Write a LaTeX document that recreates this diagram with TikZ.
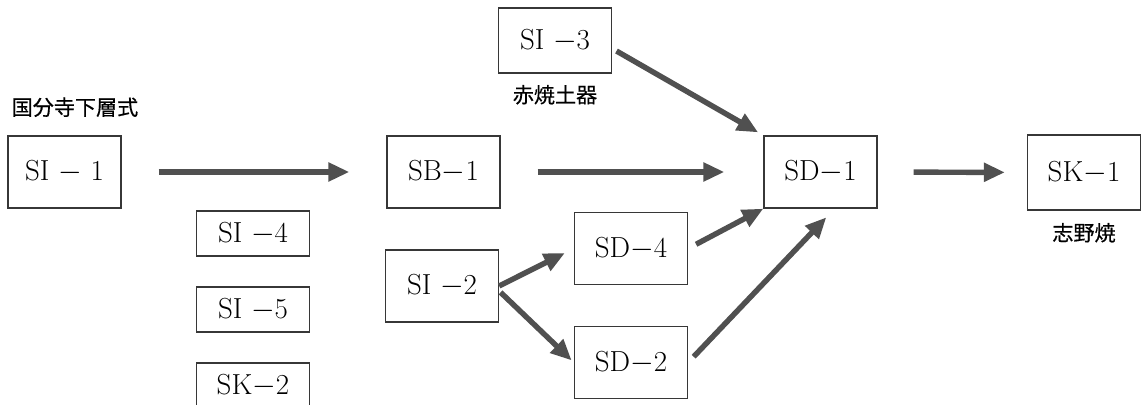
\documentclass[tikz,border=0pt]{standalone}
\usepackage{fontspec}
\newfontfamily\jpfont[FakeBold=0.5]{Noto Sans CJK JP}
\usetikzlibrary{arrows.meta}
\usetikzlibrary{positioning}

\definecolor{boxgray}{RGB}{55,55,55}
\definecolor{arrgray}{RGB}{80,80,80}

\begin{document}
\begin{tikzpicture} [x = 0.02cm, y = -0.02cm,
    box/.style = {draw = boxgray, line width = 0.75pt,
        minimum width = 2.26cm, minimum height = 1.44cm,
        inner sep = 0pt, font = \fontsize{16.5}{20}\selectfont},
    slim/.style = {box, minimum height = 0.9cm},
    arr/.style = {draw = arrgray, line width = 3.1pt,
        -{Triangle[length = 0.42cm, width = 0.36cm]}},
    ware/.style = {inner sep = 0pt, font = \jpfont\fontsize{12}{14}\selectfont}]

\useasboundingbox (0,0) rectangle (1141,405);

% top row
\node [box] (SI1) at (64.5,172) {SI $-$ 1};
\node [box] (SB1) at (443.5,172) {SB$-$1};
\node [box] (SD1) at (820.5,172) {SD$-$1};
\node [box, minimum height = 1.5cm] (SK1) at (1084,172.5) {SK$-$1};
\node [box, minimum height = 1.3cm] (SI3) at (555,40.5) {SI $-$3};

% lower boxes
\node [box] (SD4) at (631,248.5) {SD$-$4};
\node [box] (SI2) at (442,286) {SI $-$2};
\node [box] (SD2) at (631,362.5) {SD$-$2};

% side column
\node [slim] (SI4) at (253,233.5) {SI $-$4};
\node [slim] (SI5) at (253,309.5) {SI $-$5};
\node [slim] (SK2) at (253,385.5) {SK$-$2};

% names
\node (kokubunji) [ware, above right = 0.36cm and 0.08cm of SI1.north west] {国分寺下層式};
\node (akayaki) [ware, below = 0.22cm of SI3] {赤焼土器};
\node (shino) [ware, below = 0.24cm of SK1] {志野焼};

% arrows
\draw [arr, shorten < = 0.74cm, shorten > = 0.74cm] (SI1) -- (SB1);
\draw [arr, shorten < = 0.74cm, shorten > = 0.78cm] (SB1) -- (SD1);
\draw [arr, shorten < = 0.72cm, shorten > = 0.44cm] (SD1) -- (SK1);
\draw [arr, shorten < = 0.1cm, shorten > = 0.12cm] (SI3.-8) -- (SD1.north west);
\draw [arr, shorten > = 0.2cm] (SI2.east) -- (SD4.west);
\draw [arr, shorten < = 0.04cm, shorten > = 0.06cm] (SI2.-5) -- (SD2.west);
\draw [arr, shorten < = 0.18cm] (SD4.east) -- (SD1.south west);
\draw [arr, shorten < = 0.16cm, shorten > = 0.24cm] (SD2.east) -- (SD1.-69);

\end{tikzpicture}
\end{document}
